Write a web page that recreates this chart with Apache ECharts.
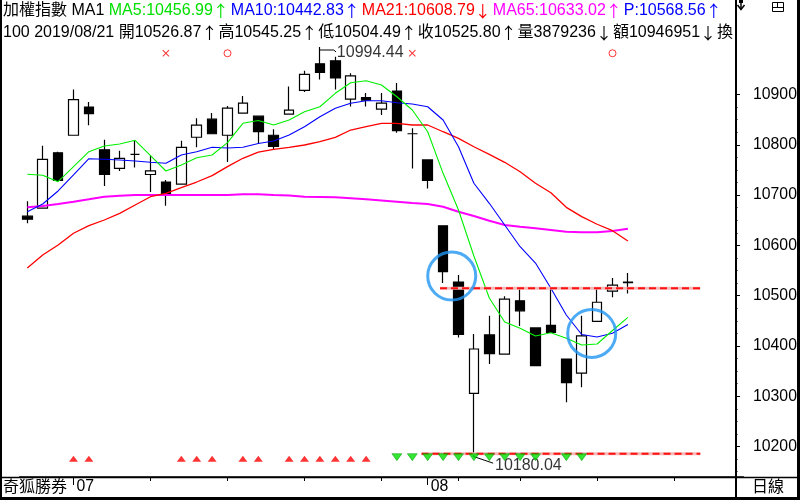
<!DOCTYPE html>
<html><head><meta charset="utf-8">
<script src="https://cdn.jsdelivr.net/npm/echarts@6/dist/echarts.min.js"></script>
<style>html,body{margin:0;padding:0;background:#fff}#c{width:800px;height:500px}</style>
</head><body><div id="c"></div>
<script>
// ---- categories (trading days + empty future slots) ----
const dates = ['2019/06/26','2019/06/27','2019/06/28','2019/07/01','2019/07/02','2019/07/03','2019/07/04','2019/07/05',
 '2019/07/08','2019/07/09','2019/07/10','2019/07/11','2019/07/12','2019/07/15','2019/07/16','2019/07/17','2019/07/18','2019/07/19',
 '2019/07/22','2019/07/23','2019/07/24','2019/07/25','2019/07/26','2019/07/29','2019/07/30','2019/07/31','2019/08/01','2019/08/02',
 '2019/08/05','2019/08/06','2019/08/07','2019/08/08','2019/08/12','2019/08/13','2019/08/14','2019/08/15','2019/08/16',
 '2019/08/19','2019/08/20','2019/08/21','2019/08/22','2019/08/23','2019/08/26','2019/08/27','2019/08/28','2019/08/29','2019/08/30'];
// ---- OHLC ----
const opens  = [10658,10674,10784,10819,10875,10790,10753,10781,10741,10726,10722,10815,10851,10819,10863,10857,10819,10861,10908,10961,10967,10891,10894,10871,10907,10822,10770,10639,10527,10306,10422,10384,10490,10436,10441,10374,10346,10449,10509,10526.87];
const closes = [10652,10771,10729,10890,10862,10741,10773,10781,10748,10701,10795,10839,10822,10873,10883,10826,10797,10869,10940,10944,10933,10937,10889,10883,10828,10822,10729,10548,10423,10394,10385,10493,10470,10361,10427,10327,10420,10487,10521,10525.80];
const lows   = [10644,10673,10727,10818,10839,10718,10748,10755,10706,10679,10721,10795,10822,10766,10862,10803,10791,10860,10905,10930,10910,10876,10876,10859,10824,10753,10713,10525,10417,10180.04,10364,10383,10440,10360,10426,10288,10318,10449,10497,10504.49];
const highs  = [10688,10798,10786,10910,10885,10810,10788,10808,10778,10730,10808,10853,10863,10877,10897,10858,10831,10916,10947,10994.44,10975,10942,10903,10903,10923,10833,10770,10639,10541,10424,10460,10499,10513,10436,10515,10374,10460,10515,10535,10545.25];
// ---- moving averages ----
const ma5  = [10741.4,10739.4,10726.6,10756.5,10786.3,10797.6,10801.6,10808.9,10778.3,10747.9,10759.8,10774.4,10779.7,10804.2,10842.7,10848.3,10839.4,10849.3,10865.8,10875.7,10902.4,10923.5,10927.4,10918.9,10895.6,10869.2,10826,10743.3,10670.4,10578.9,10495.4,10447.7,10435.2,10419.9,10426.4,10415.3,10402,10404,10430.8,10456.99];
const ma10 = [10667,10682.3,10708.2,10740,10772.4,10771.2,10769.8,10767.8,10765.2,10763.2,10779.7,10786.3,10795,10793.6,10795,10802.6,10807.6,10819.5,10836,10855.9,10872.6,10882.5,10887.7,10887.7,10883.7,10881.1,10875.7,10849.3,10796.2,10723.5,10683.7,10640.6,10597.4,10565,10514.7,10461.6,10422.9,10417.9,10425.2,10442.83];
const ma21 = [10555.1,10580.9,10600.8,10624.1,10639.2,10650.5,10663.8,10680.3,10696.8,10703.6,10714.7,10726,10738.6,10756.5,10773.2,10785.3,10791.1,10795,10799.6,10806.2,10814.9,10829.4,10836,10842.7,10842.7,10839.4,10839.4,10826,10812.9,10796.2,10781.1,10765.2,10746.5,10723.5,10704.8,10675.7,10657.1,10642,10629.2,10608.79];
const ma65 = [10675.7,10678.3,10682.3,10686.9,10691.7,10696.8,10698.8,10700.2,10700.2,10700.2,10700.2,10700.2,10700.2,10700.2,10701.5,10701.5,10700.2,10699.2,10696.8,10696.2,10695.6,10693.6,10691.7,10689.3,10686.9,10684.3,10682.3,10676.9,10667,10658.4,10649.1,10640.6,10637.2,10634,10630.6,10627.2,10626,10626,10628.6,10633.02];
// ---- signals / annotations ----
const buySignalIdx  = [3,4,10,11,12,14,15,17,18,19,20,21,22];
const sellSignalIdx = [24,25,26,27,28,29,30,31,32,33,35,36];
const signalLevel = 10176;
const crossMarkIdx = [9,25];
const ringMarkIdx  = [13,38];
const markLevel = 10982;
const resistLine = {from: 26.8, to: 43.7, value: 10515};
const supportLine = {from: 25.6, to: 43.7, value: 10186};
const circleMarks = [[27.56, 10539],[36.65, 10425]];
const highNote = {idx: 19, value: 10994.44, text: '10994.44'};
const lowNote  = {idx: 29, value: 10180.04, text: '10180.04'};
// ---- axis ticks / labels ----
const yTickValues = [10200,10300,10400,10500,10600,10700,10800,10900];
const yMinorValues = [10150,10175,10225,10250,10275,10325,10350,10375,10425,10450,10475,10525,10550,10575,10625,10650,10675,10725,10750,10775,10825,10850,10875];
const Y_MIN = 10139.56, Y_MAX = 11087.87;
const weekTickIdx  = [8,13,18,23,28,32,37,42];
const monthTickIdx = [3,26];
const monthLabels  = ['07','08'];
// ---- header ----
const headerRow1 = [['加權指數 MA1 ','k'],['MA5:10456.99','g'],['↑','ga'],['MA10:10442.83','b'],['↑','ba'],['MA21:10608.79','r'],['↓','ra'],['MA65:10633.02','m'],['↑','ma'],['P:10568.56','b'],['↑','ba']];
const headerRow2 = [['100 2019/08/21 開10526.87','k'],['↑','ka'],['高10545.25','k'],['↑','ka'],['低10504.49','k'],['↑','ka'],['收10525.80','k'],['↑','ka'],['量3879236','k'],['↓','ka'],['額10946951','k'],['↓','ka'],['換','k']];

const FONT = '"Liberation Sans","Noto Sans CJK TC",sans-serif';
const CJK = '"Noto Sans CJK TC",sans-serif';
const FS = 15.8;
const HS = 16;
const chart = echarts.init(document.getElementById('c'), null, {renderer: 'canvas'});

const candleData = opens.map((o, i) => [o, closes[i], lows[i], highs[i]]);
const joinRow = row => row.map(p => '{' + p[1] + '|' + p[0] + '}').join('');
const header = joinRow(headerRow1) + '\n' + joinRow(headerRow2);
const rs = (c) => ({color: c, fontSize: HS, fontFamily: FONT, lineHeight: 22});
const ra = (c, w) => ({color: c, fontSize: HS, fontFamily: CJK, lineHeight: 22, width: w});

function lineSeries(data, color, width) {
  return {type: 'line', data: data, symbol: 'none', showSymbol: false, silent: true,
    lineStyle: {color: color, width: width}, z: 3};
}
const yAxisBase = {type: 'value', min: Y_MIN, max: Y_MAX, position: 'right', offset: -7.4, splitLine: {show: false}};

const option = {
  animation: false,
  backgroundColor: '#fff',
  title: {left: 3, top: 0, padding: 0, text: header,
    textStyle: {fontSize: HS, fontFamily: FONT, lineHeight: 22, fontWeight: 'normal',
      rich: {k: rs('#000'), g: rs('#00e000'), b: rs('#0000ff'), r: rs('#ff0000'), m: rs('#ff00ff'),
        ka: ra('#000', 17), ga: ra('#00e000', 18), ba: ra('#0000ff', 18), ra: ra('#ff0000', 18), ma: ra('#ff00ff', 18)}}},
  grid: {left: 19.6, right: 56.6, top: 0, bottom: 23, containLabel: false, outerBoundsMode: 'none'},
  xAxis: [
    {type: 'category', data: dates, boundaryGap: true, position: 'bottom',
      axisLine: {show: true, onZero: false, lineStyle: {color: '#000', width: 1.5}},
      axisTick: {show: true, alignWithLabel: true, length: 4, interval: (i) => weekTickIdx.includes(i), lineStyle: {color: '#000'}},
      axisLabel: {show: false}, splitLine: {show: false}},
    {type: 'category', data: dates, boundaryGap: true, position: 'bottom',
      axisLine: {show: false, onZero: false},
      axisTick: {show: true, alignWithLabel: true, length: 8, interval: (i) => monthTickIdx.includes(i), lineStyle: {color: '#000'}},
      axisLabel: {show: true, interval: (i) => monthTickIdx.includes(i),
        formatter: (v, i) => { const k = monthTickIdx.indexOf(i); return k >= 0 ? monthLabels[k] : ''; },
        align: 'left', padding: [0, 0, 0, 3], margin: 2, color: '#000', fontSize: FS, fontFamily: FONT},
      splitLine: {show: false}},
    {type: 'value', min: -0.5, max: dates.length - 0.5, show: false}
  ],
  yAxis: [
    Object.assign({}, yAxisBase, {
      axisLine: {show: true, onZero: false, lineStyle: {color: '#000', width: 2}},
      axisTick: {show: true, length: 4, customValues: yTickValues, lineStyle: {color: '#000'}},
      axisLabel: {show: true, customValues: yTickValues, formatter: v => String(Math.round(v)), margin: 17, color: '#000', fontSize: FS, fontFamily: FONT, align: 'left'}}),
    Object.assign({}, yAxisBase, {
      axisLine: {show: false, onZero: false},
      axisTick: {show: true, length: 1.5, customValues: yMinorValues, lineStyle: {color: '#000'}},
      axisLabel: {show: false}})
  ],
  series: [
    {type: 'candlestick', data: candleData, barWidth: 10, z: 2,
      itemStyle: {color: '#fff', color0: '#000', borderColor: '#000', borderColor0: '#000', borderWidth: 1.2}},
    lineSeries(ma65, '#ff00ff', 2),
    lineSeries(ma21, '#ff0000', 1.3),
    lineSeries(ma10, '#0000ff', 1.1),
    lineSeries(ma5, '#00f000', 1.1),
    // support / resistance
    {type: 'line', xAxisIndex: 2, symbol: 'none', z: 5, data: [[resistLine.from, resistLine.value],[resistLine.to, resistLine.value]], lineStyle: {color: '#f6b8b8', width: 3}},
    {type: 'line', xAxisIndex: 2, symbol: 'none', z: 6, data: [[resistLine.from, resistLine.value],[resistLine.to, resistLine.value]], lineStyle: {color: '#ff1010', width: 2, type: [7, 4]}},
    {type: 'line', xAxisIndex: 2, symbol: 'none', z: 5, data: [[supportLine.from, supportLine.value],[supportLine.to, supportLine.value]], lineStyle: {color: '#f6b8b8', width: 3}},
    {type: 'line', xAxisIndex: 2, symbol: 'none', z: 6, data: [[supportLine.from, supportLine.value],[supportLine.to, supportLine.value]], lineStyle: {color: '#ff1010', width: 2, type: [7, 4]}},
    // circles
    {type: 'scatter', xAxisIndex: 2, data: circleMarks, symbol: 'circle', symbolSize: 48, z: 7,
      itemStyle: {color: 'rgba(0,0,0,0)', borderColor: '#2196f3', borderWidth: 3}},
    // signals
    {type: 'scatter', data: buySignalIdx.map(i => [i, signalLevel]), symbol: 'triangle', symbolSize: [9, 6], z: 4,
      itemStyle: {color: '#ff0000'}},
    {type: 'scatter', data: sellSignalIdx.map(i => [i, signalLevel + 3]), symbol: 'triangle', symbolRotate: 180, symbolSize: [10, 7], z: 7,
      itemStyle: {color: '#00e000', borderColor: '#009000', borderWidth: 0.6}},
    {type: 'scatter', data: crossMarkIdx.map(i => [i, markLevel]), symbol: 'path://M0,1L1,0L5,4L9,0L10,1L6,5L10,9L9,10L5,6L1,10L0,9L4,5Z', symbolSize: 7,
      itemStyle: {color: '#ff0000'}},
    {type: 'scatter', data: ringMarkIdx.map(i => [i, markLevel]), symbol: 'circle', symbolSize: 7,
      itemStyle: {color: '#fff', borderColor: '#ff0000', borderWidth: 1}},
    // high / low notes
    {type: 'line', xAxisIndex: 2, symbol: 'none', z: 5, lineStyle: {color: '#000', width: 1},
      data: [[highNote.idx, highNote.value - 6], [highNote.idx + 0.9, highNote.value - 6], [highNote.idx + 1.05, highNote.value - 10]]},
    {type: 'scatter', xAxisIndex: 2, symbolSize: 0, z: 5, data: [[highNote.idx + 1.1, highNote.value - 12]],
      label: {show: true, position: [0, 0], align: 'left', verticalAlign: 'middle', formatter: highNote.text, color: '#000', fontSize: HS, fontFamily: FONT}},
    {type: 'line', xAxisIndex: 2, symbol: 'none', z: 5, lineStyle: {color: '#000', width: 1},
      data: [[lowNote.idx, lowNote.value], [lowNote.idx + 1.25, lowNote.value - 13]]},
    {type: 'scatter', xAxisIndex: 2, symbolSize: 0, z: 5, data: [[lowNote.idx + 1.37, lowNote.value - 17]],
      label: {show: true, position: [0, 0], align: 'left', verticalAlign: 'middle', formatter: lowNote.text, color: '#000', fontSize: HS, fontFamily: FONT}}
  ],
  graphic: [
    {type: 'rect', shape: {x: 736, y: 0, width: 64, height: 44}, style: {fill: '#fff'}, z: 9},
    {type: 'line', shape: {x1: 0, y1: 477.5, x2: 800, y2: 477.5}, style: {stroke: '#000', lineWidth: 1.5}, z: 10},
    {type: 'line', shape: {x1: 736, y1: 0, x2: 736, y2: 499}, style: {stroke: '#000', lineWidth: 2}, z: 10},
    {type: 'line', shape: {x1: 1, y1: 0, x2: 1, y2: 500}, style: {stroke: '#000', lineWidth: 2}, z: 10},
    {type: 'line', shape: {x1: 798.5, y1: 0, x2: 798.5, y2: 500}, style: {stroke: '#000', lineWidth: 3}, z: 10},
    {type: 'line', shape: {x1: 0, y1: 498.5, x2: 800, y2: 498.5}, style: {stroke: '#000', lineWidth: 3}, z: 10},
    {type: 'text', x: 3, y: 488, style: {text: '奇狐勝券', fill: '#000', font: '16px ' + FONT, textVerticalAlign: 'middle'}, z: 10},
    {type: 'text', x: 752, y: 488, style: {text: '日線', fill: '#000', font: '16px ' + FONT, textVerticalAlign: 'middle'}, z: 10},
    // window icons
    {type: 'rect', shape: {x: 772.5, y: 2.5, width: 11, height: 9}, style: {fill: 'none', stroke: '#000', lineWidth: 1}, z: 10},
    {type: 'line', shape: {x1: 772.5, y1: 7.5, x2: 783.5, y2: 7.5}, style: {stroke: '#000', lineWidth: 1}, z: 10},
    {type: 'line', shape: {x1: 777.5, y1: 2.5, x2: 777.5, y2: 7.5}, style: {stroke: '#000', lineWidth: 1}, z: 10},
    {type: 'line', shape: {x1: 741, y1: 0, x2: 741, y2: 9}, style: {stroke: '#000', lineWidth: 1.5}, z: 10},
    {type: 'polyline', shape: {points: [[737.5, 5], [741, 9.5], [744.5, 5]]}, style: {stroke: '#000', lineWidth: 1.5, fill: 'none'}, z: 10},
    {type: 'rect', shape: {x: 739, y: 0, width: 4, height: 3}, style: {fill: '#000'}, z: 10}
  ]
};
chart.setOption(option);
</script></body></html>
